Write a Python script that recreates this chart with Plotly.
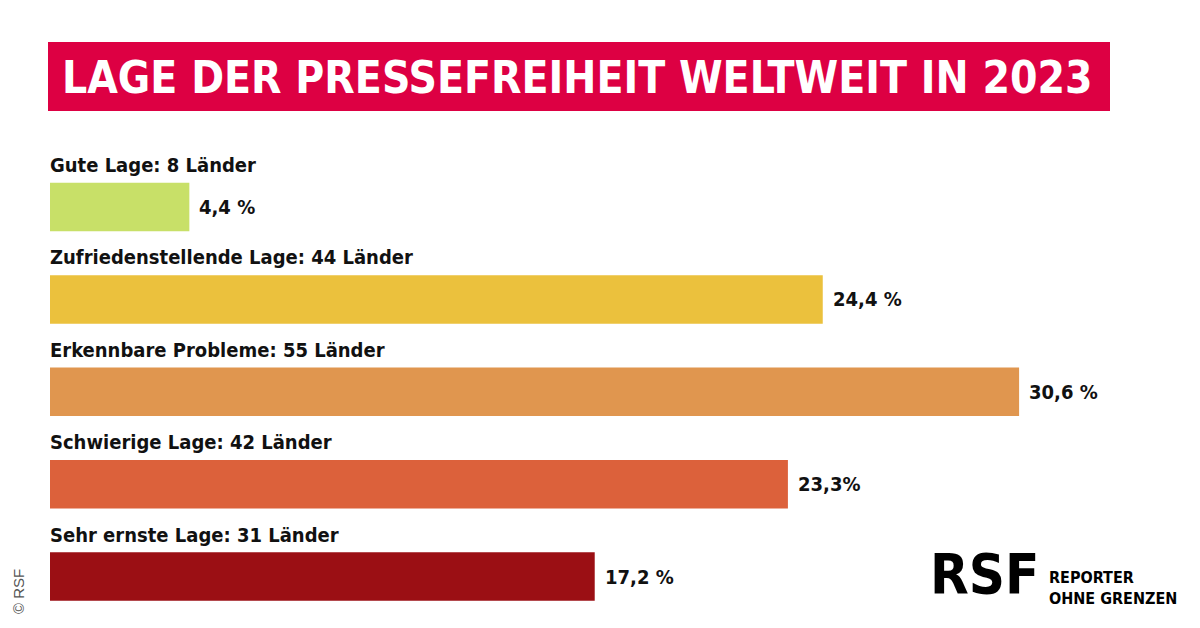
import plotly.graph_objects as go

categories = ["Gute Lage: 8 Länder", "Zufriedenstellende Lage: 44 Länder", "Erkennbare Probleme: 55 Länder",
              "Schwierige Lage: 42 Länder", "Sehr ernste Lage: 31 Länder"]
values = [4.4, 24.4, 30.6, 23.3, 17.2]
value_labels = ["4,4 %", "24,4 %", "30,6 %", "23,3%", "17,2 %"]
colors = ["#c8e068", "#ebc13d", "#e0964f", "#dc613b", "#9b0f14"]
title_text = "LAGE DER PRESSEFREIHEIT WELTWEIT IN 2023"

W, H = 1200, 628
FONT = "DejaVu Sans Condensed"
ids = list(range(len(categories)))

fig = go.Figure(go.Bar(
    x=values, y=ids, orientation="h", marker=dict(color=colors, line=dict(width=0)),
    width=0.525, hoverinfo="skip"))

annotations = []
for i, (c, v, lab) in enumerate(zip(categories, values, value_labels)):
    annotations.append(dict(x=0, y=i, xref="x", yref="y", text=c, showarrow=False,
                            xanchor="left", yanchor="middle", yshift=42, xshift=-2,
                            font=dict(family=FONT, size=20, color="#111111", weight="bold")))
    annotations.append(dict(x=v, y=i, xref="x", yref="y", text=lab, showarrow=False,
                            xanchor="left", yanchor="middle", xshift=8,
                            font=dict(family=FONT, size=20, color="#111111", weight="bold")))

# title
annotations.append(dict(x=577 / W, y=1 - 77 / H, xref="paper", yref="paper", text=title_text,
                        showarrow=False, xanchor="center", yanchor="middle",
                        font=dict(family=FONT, size=44, color="white", weight="bold")))
# logo
annotations.append(dict(x=1042 / W, y=1 - 573 / H, xref="paper", yref="paper", text="RSF",
                        showarrow=False, xanchor="right", yanchor="middle",
                        font=dict(family=FONT, size=56, color="black", weight="bold")))
annotations.append(dict(x=1047 / W, y=1 - 588 / H, xref="paper", yref="paper",
                        text="REPORTER<br>OHNE GRENZEN", align="left",
                        showarrow=False, xanchor="left", yanchor="middle",
                        font=dict(family=FONT, size=16, color="black", weight="bold")))
# copyright
annotations.append(dict(x=18 / W, y=1 - 592 / H, xref="paper", yref="paper", text="© RSF",
                        showarrow=False, xanchor="center", yanchor="middle", textangle=-90,
                        font=dict(family="Liberation Sans", size=15, color="#555555")))

px_per_pct = 31.67
plot_w = W - 50
fig.update_layout(
    width=W, height=H, margin=dict(l=0, r=0, t=0, b=0),
    paper_bgcolor="white", plot_bgcolor="white", showlegend=False,
    xaxis=dict(range=[0, plot_w / px_per_pct], visible=False, fixedrange=True,
               domain=[50 / W, 1]),
    yaxis=dict(range=[4.5, -0.5], visible=False, fixedrange=True,
               domain=[1 - 622.8 / H, 1 - 160.8 / H]),
    annotations=annotations,
    shapes=[dict(type="rect", xref="paper", yref="paper", x0=48 / W, x1=1110 / W,
                 y0=1 - 111 / H, y1=1 - 42 / H, fillcolor="#dd0043", line=dict(width=0), layer="below")],
)

fig.write_html("out.html", config=dict(displayModeBar=False),
               post_script="document.body.style.margin='0';")
